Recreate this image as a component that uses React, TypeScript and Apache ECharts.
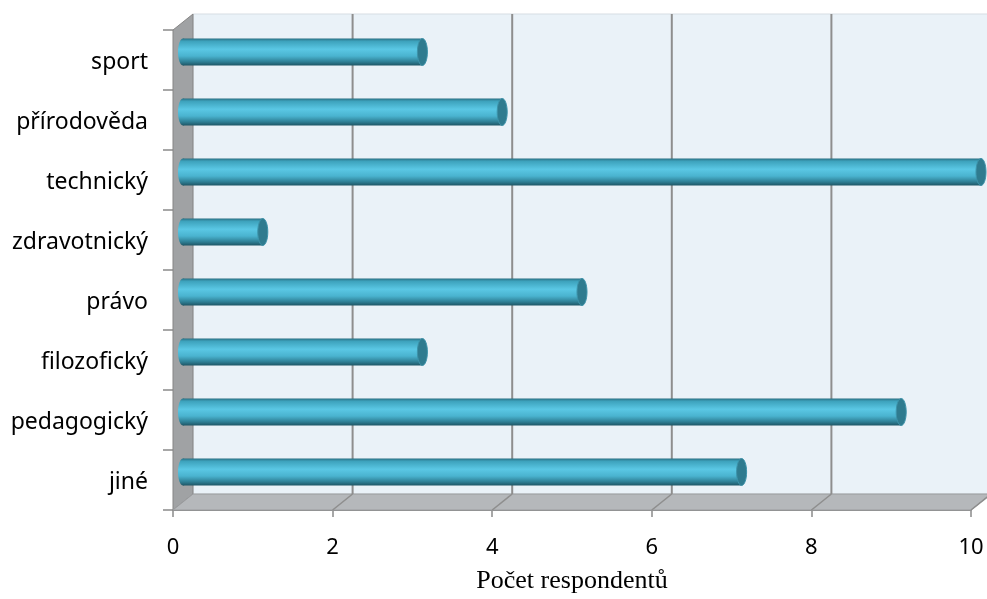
import React, { useEffect, useRef } from "react";
import * as echarts from "echarts";

const categories = ["jiné", "pedagogický", "filozofický", "právo", "zdravotnický", "technický", "přírodověda", "sport"];
const values = [7, 9, 3, 5, 1, 10, 4, 3];
const xTicks = [0, 2, 4, 6, 8, 10];
const axisTitle = "Počet respondentů";

const DX = 20;
const DY = -16;

export default function App() {
  const ref = useRef<HTMLDivElement>(null);
  useEffect(() => {
    const chart = echarts.init(ref.current!, null, { renderer: "svg" });
    const barGrad = {
      type: "linear", x: 0, y: 0, x2: 0, y2: 1,
      colorStops: [
        { offset: 0, color: "#2a6f82" },
        { offset: 0.1, color: "#3d a2bc".replace(" ", "") },
        { offset: 0.4, color: "#5ac7e4" },
        { offset: 0.65, color: "#4ab3cf" },
        { offset: 0.86, color: "#2f8096" },
        { offset: 1, color: "#1e5666" },
      ],
    };
    chart.setOption({
      animation: false,
      grid: { left: 173, right: 16, top: 30, bottom: 89, containLabel: false },
      xAxis: {
        type: "value", min: 0, max: 10, interval: 2,
        axisLine: { show: true, lineStyle: { color: "#8a8a8a", width: 1 } },
        axisTick: { show: true, length: 7, lineStyle: { color: "#8a8a8a", width: 1.5 } },
        splitLine: { show: false },
        axisLabel: { fontSize: 22, color: "#000", fontFamily: "Noto Sans", margin: 24 },
        name: axisTitle,
        nameLocation: "middle",
        nameGap: 56,
        nameTextStyle: { fontSize: 26, color: "#000", fontFamily: "Liberation Serif" },
      },
      yAxis: {
        type: "category", data: categories,
        axisLine: { show: true, lineStyle: { color: "#8a8a8a", width: 1 } },
        axisTick: { show: true, length: 10, lineStyle: { color: "#8a8a8a", width: 1.5 } },
        splitLine: { show: false },
        axisLabel: { fontSize: 23, color: "#000", fontFamily: "Noto Sans", margin: 25 },
      },
      series: [
        {
          type: "custom", z: 1, silent: true, clip: false,
          data: [[0, 0]],
          renderItem: (params: any, api: any) => {
            const cs = params.coordSys;
            const x = cs.x, y = cs.y, w = cs.width, h = cs.height;
            const children: any[] = [];
            children.push({ type: "rect", shape: { x: x + DX, y: y + DY, width: w, height: h }, style: { fill: "#eaf2f8", stroke: "#d6dde3", lineWidth: 1 } });
            children.push({ type: "polygon", shape: { points: [[x, y], [x + DX, y + DY], [x + DX, y + h + DY], [x, y + h]] }, style: { fill: "#a0a2a4", stroke: "#858585", lineWidth: 1 } });
            children.push({ type: "polygon", shape: { points: [[x, y + h], [x + DX, y + h + DY], [x + w + DX, y + h + DY], [x + w, y + h]] }, style: { fill: "#b5b8bb", stroke: "#9a9c9e", lineWidth: 1 } });
            xTicks.forEach((v) => {
              const px = api.coord([v, 0])[0];
              if (v > 0) {
                children.push({ type: "line", shape: { x1: px + DX, y1: y + DY, x2: px + DX, y2: y + h + DY }, style: { stroke: "#8e8e8e", lineWidth: 2 } });
                children.push({ type: "line", shape: { x1: px, y1: y + h, x2: px + DX, y2: y + h + DY }, style: { stroke: "#8e8e8e", lineWidth: 1.5 } });
              }
            });
            return { type: "group", children };
          },
        },
        {
          type: "custom", z: 3, clip: false,
          encode: { x: 0, y: 1 },
          data: values.map((v, i) => [v, i]),
          renderItem: (params: any, api: any) => {
            const c = api.value(1);
            const v = api.value(0);
            const p0 = api.coord([0, c]);
            const p1 = api.coord([v, c]);
            const bh = api.size([0, 1])[1] * 0.45;
            const x0 = p0[0] + DX / 2;
            const x1 = p1[0] + DX / 2;
            const cy = p0[1] + DY / 2;
            const rx = 5;
            return {
              type: "group",
              children: [
                { type: "ellipse", shape: { cx: x0, cy, rx, ry: bh / 2 }, style: { fill: barGrad } },
                { type: "rect", shape: { x: x0, y: cy - bh / 2, width: x1 - x0, height: bh }, style: { fill: barGrad } },
                { type: "ellipse", shape: { cx: x1, cy, rx, ry: bh / 2 }, style: { fill: "#2f7b8f", stroke: "#3d93aa", lineWidth: 1 } },
              ],
            };
          },
        },
      ],
    });
    return () => chart.dispose();
  }, []);
  return <div ref={ref} style={{ position: "fixed", left: 0, top: 0, width: 987, height: 599 }} />;
}
